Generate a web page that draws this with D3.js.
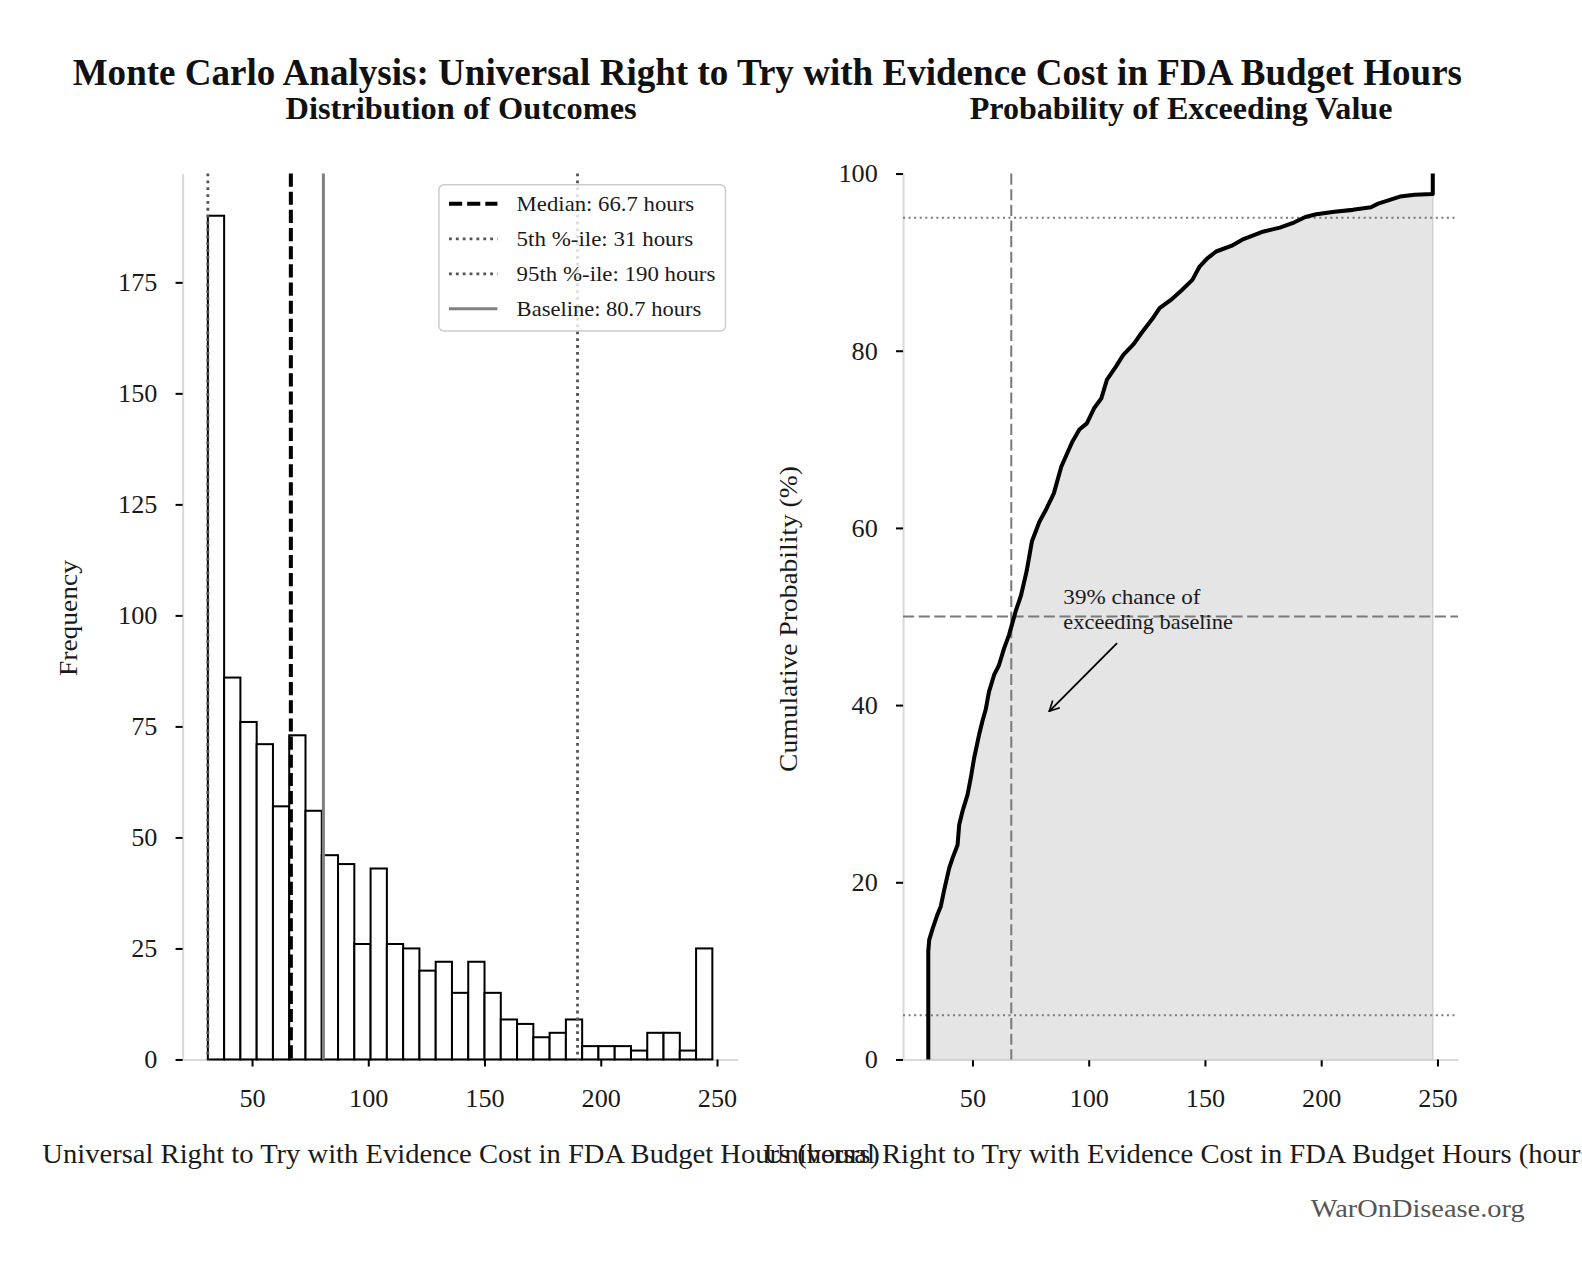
<!DOCTYPE html>
<html>
<head>
<meta charset="utf-8">
<script src="https://cdn.jsdelivr.net/npm/d3@7/dist/d3.min.js"></script>
<style>
  body { margin: 0; background: #fff; }
  text { font-family: "Liberation Serif", "DejaVu Serif", serif; }
</style>
</head>
<body>
<svg id="chart" width="1582" height="1280"></svg>
<script>
// histogram: 31 equal-width bins between the lowest and highest simulated value
const histMin = 31;
const histMax = 248;
const binCounts = [190, 86, 76, 71, 57, 73, 56, 46, 44, 26, 43, 26, 25, 20, 22, 15,
                   22, 15, 9, 8, 5, 6, 9, 3, 3, 3, 2, 6, 6, 2, 25];

// summary stats (hours)
const median = 66.7;
const p5 = 31;
const p95 = 190;
const baseline = 80.7;

// cumulative curve
const cdfHours = [31, 31, 31.4, 32.9, 35, 36.4, 37.9, 40, 41.4, 43.6, 44.3, 45.7, 47.9, 49.3,
  50.7, 52.9, 54.3, 55.7, 57.1, 59.3, 61.4, 63.6, 65.7, 67.1, 68.6, 70.9, 73.3, 75.6, 78.8,
  81.9, 85.0, 88.2, 92.9, 96.0, 99.2, 102.3, 105.4, 107.8, 111.7, 114.8, 119.5, 122.7, 127.4,
  130.5, 135.2, 139.9, 144.6, 147.7, 150.9, 154.8, 161.9, 166.6, 174.4, 182.2, 188.5, 193.2,
  197.9, 205.7, 213.6, 221.4, 224.5, 229.2, 233.9, 240.2, 248, 248];
const cdfPct = [0, 12.2, 13.5, 14.8, 16.4, 17.3, 19.2, 21.6, 22.7, 24.2, 26.5, 28.0, 29.9, 31.8,
  34.0, 36.7, 38.2, 39.5, 41.5, 43.4, 44.5, 46.4, 47.9, 49.2, 50.6, 52.4, 55.1, 58.5, 60.7,
  62.2, 63.9, 66.9, 69.7, 71.1, 71.8, 73.5, 74.6, 76.7, 78.2, 79.5, 80.8, 82.0, 83.6,
  84.8, 85.7, 86.8, 88.0, 89.5, 90.4, 91.2, 91.9, 92.6, 93.4, 93.9, 94.5, 95.1,
  95.4, 95.7, 95.9, 96.2, 96.6, 97.0, 97.4, 97.6, 97.7, 100];

// ticks
const hourTicks = [50, 100, 150, 200, 250];
const freqTicks = [0, 25, 50, 75, 100, 125, 150, 175];
const pctTicks = [0, 20, 40, 60, 80, 100];

const legendLabels = ['Median: 66.7 hours', '5th %-ile: 31 hours', '95th %-ile: 190 hours', 'Baseline: 80.7 hours'];
const xLabel = 'Universal Right to Try with Evidence Cost in FDA Budget Hours (hours)';

const svg0 = d3.select('#chart');
svg0.append('rect').attr('width', 1582).attr('height', 1280).attr('fill', '#fff');
// layout below was measured on a slightly shrunken view of the picture
const svg = svg0.append('g').attr('transform', 'scale(1.009)');

// fit a text element to a given width (the original face is narrower than ours)
function fit(sel, w) {
  sel.attr('textLength', w).attr('lengthAdjust', 'spacingAndGlyphs');
  return sel;
}

// scales
const pad = (histMax - histMin) * 0.05;
const xDomain = [histMin - pad, histMax + pad];
const xL = d3.scaleLinear().domain(xDomain).range([181, 731]);
const yL = d3.scaleLinear().domain([0, d3.max(binCounts) * 1.05]).range([1050, 172]);
const xR = d3.scaleLinear().domain(xDomain).range([895, 1445]);
const yR = d3.scaleLinear().domain([0, 100]).range([1050, 172]);

function axes(x, y, yTicks) {
  const gx = svg.append('g')
    .attr('transform', `translate(0, ${y(0)})`)
    .call(d3.axisBottom(x).tickValues(hourTicks).tickSize(7).tickSizeOuter(0).tickPadding(22));
  const gy = svg.append('g')
    .attr('transform', `translate(${x.range()[0]}, 0)`)
    .call(d3.axisLeft(y).tickValues(yTicks).tickSize(7).tickSizeOuter(0).tickPadding(18));
  [gx, gy].forEach(g => {
    g.attr('font-family', null).attr('font-size', 26);
    g.select('.domain').attr('stroke', '#d9d9d9').attr('stroke-width', 2);
    g.selectAll('.tick line').attr('stroke', '#000').attr('stroke-width', 2);
    g.selectAll('.tick text').attr('fill', '#1a1a1a');
  });
}

// ---------- left: histogram ----------
const edges = d3.range(binCounts.length + 1)
  .map(i => histMin + i * (histMax - histMin) / binCounts.length);

axes(xL, yL, freqTicks);

svg.append('g').selectAll('rect')
  .data(binCounts)
  .enter()
  .append('rect')
  .attr('x', (d, i) => xL(edges[i]))
  .attr('width', (d, i) => xL(edges[i + 1]) - xL(edges[i]))
  .attr('y', d => yL(d))
  .attr('height', d => yL(0) - yL(d))
  .attr('fill', '#fff')
  .attr('stroke', '#000')
  .attr('stroke-width', 2);

const refStyles = [
  {color: '#000', width: 4, dash: '13,5'},
  {color: '#555', width: 2.8, dash: '2.8,4'},
  {color: '#555', width: 2.8, dash: '2.8,4'},
  {color: '#808080', width: 3, dash: null}
];
const refValues = [median, p5, p95, baseline];

svg.append('g').selectAll('line')
  .data(refValues)
  .enter()
  .append('line')
  .attr('x1', d => xL(d)).attr('x2', d => xL(d))
  .attr('y1', yL.range()[1]).attr('y2', yL(0))
  .attr('stroke', (d, i) => refStyles[i].color)
  .attr('stroke-width', (d, i) => refStyles[i].width)
  .attr('stroke-dasharray', (d, i) => refStyles[i].dash);

// legend
const legend = svg.append('g').attr('transform', 'translate(435, 183)');
legend.append('rect')
  .attr('width', 284).attr('height', 145).attr('rx', 5)
  .attr('fill', '#fff').attr('fill-opacity', 0.8)
  .attr('stroke', '#cccccc').attr('stroke-width', 1.5);
const legendWidths = [176, 175, 197, 183];
legendLabels.forEach((lab, i) => {
  const yy = 19 + i * 34.7;
  legend.append('line')
    .attr('x1', 10).attr('x2', 58).attr('y1', yy).attr('y2', yy)
    .attr('stroke', refStyles[i].color)
    .attr('stroke-width', refStyles[i].width)
    .attr('stroke-dasharray', refStyles[i].dash);
  fit(legend.append('text')
    .attr('x', 77).attr('y', yy + 7)
    .attr('font-size', 21).attr('fill', '#1a1a1a')
    .text(lab), legendWidths[i]);
});

// ---------- right: cumulative curve ----------
const cdf = cdfHours.map((h, i) => [h, cdfPct[i]]);

axes(xR, yR, pctTicks);

svg.append('path')
  .datum(cdf)
  .attr('d', d3.area().x(d => xR(d[0])).y0(yR(0)).y1(d => yR(d[1])))
  .attr('fill', '#e5e5e5')
  .attr('stroke', '#d2d2d2')
  .attr('stroke-width', 1.5);

// reference lines
const gr = svg.append('g').attr('stroke', '#7a7a7a').attr('stroke-width', 2);
[5, 95].forEach(v => {
  gr.append('line')
    .attr('x1', xR.range()[0]).attr('x2', xR.range()[1])
    .attr('y1', yR(v)).attr('y2', yR(v))
    .attr('stroke-dasharray', '2,3.5');
});
gr.append('line')
  .attr('x1', xR.range()[0]).attr('x2', xR.range()[1])
  .attr('y1', yR(50)).attr('y2', yR(50))
  .attr('stroke-dasharray', '11,4.5');
gr.append('line')
  .attr('x1', xR(median)).attr('x2', xR(median))
  .attr('y1', yR(100)).attr('y2', yR(0))
  .attr('stroke-dasharray', '11,4.5');

svg.append('path')
  .datum(cdf)
  .attr('d', d3.line().x(d => xR(d[0])).y(d => yR(d[1])))
  .attr('fill', 'none')
  .attr('stroke', '#000')
  .attr('stroke-width', 4)
  .attr('stroke-linejoin', 'round');

// annotation
svg.append('defs').append('marker')
  .attr('id', 'arrow')
  .attr('viewBox', '0 0 12 12').attr('refX', 11).attr('refY', 6)
  .attr('markerWidth', 12).attr('markerHeight', 12)
  .attr('markerUnits', 'userSpaceOnUse')
  .attr('orient', 'auto')
  .append('path')
  .attr('d', 'M1,1 L11,6 L1,11')
  .attr('fill', 'none').attr('stroke', '#000').attr('stroke-width', 1.6);

svg.append('line')
  .attr('x1', xR(112.2)).attr('y1', yR(47.0))
  .attr('x2', xR(83)).attr('y2', yR(39.3))
  .attr('stroke', '#000').attr('stroke-width', 1.8)
  .attr('marker-end', 'url(#arrow)');
const ann = svg.append('text').attr('font-size', 21).attr('fill', '#1a1a1a');
fit(ann.append('tspan').attr('x', xR(89.1)).attr('y', yR(51.4)).text('39% chance of'), 136);
fit(ann.append('tspan').attr('x', xR(89.1)).attr('y', yR(51.4) + 25).text('exceeding baseline'), 168);

// ---------- titles and labels ----------
fit(svg.append('text')
  .attr('x', 72).attr('y', 84)
  .attr('font-size', 38).attr('font-weight', 'bold').attr('fill', '#111')
  .text('Monte Carlo Analysis: Universal Right to Try with Evidence Cost in FDA Budget Hours'), 1377);

fit(svg.append('text')
  .attr('x', 283).attr('y', 118)
  .attr('font-size', 31).attr('font-weight', 'bold').attr('fill', '#111')
  .text('Distribution of Outcomes'), 348);
fit(svg.append('text')
  .attr('x', 961).attr('y', 118)
  .attr('font-size', 31).attr('font-weight', 'bold').attr('fill', '#111')
  .text('Probability of Exceeding Value'), 419);

fit(svg.append('text')
  .attr('x', 42).attr('y', 1153)
  .attr('font-size', 28).attr('fill', '#1a1a1a')
  .text(xLabel), 830);
fit(svg.append('text')
  .attr('x', 757).attr('y', 1153)
  .attr('font-size', 28).attr('fill', '#1a1a1a')
  .text(xLabel), 830);

fit(svg.append('text')
  .attr('transform', 'translate(76, 670) rotate(-90)')
  .attr('font-size', 26).attr('fill', '#1a1a1a')
  .text('Frequency'), 115);
fit(svg.append('text')
  .attr('transform', 'translate(790, 765) rotate(-90)')
  .attr('font-size', 26).attr('fill', '#1a1a1a')
  .text('Cumulative Probability (%)'), 303);

fit(svg.append('text')
  .attr('x', 1299).attr('y', 1206)
  .attr('font-size', 26).attr('fill', '#555')
  .text('WarOnDisease.org'), 212);
</script>
</body>
</html>
